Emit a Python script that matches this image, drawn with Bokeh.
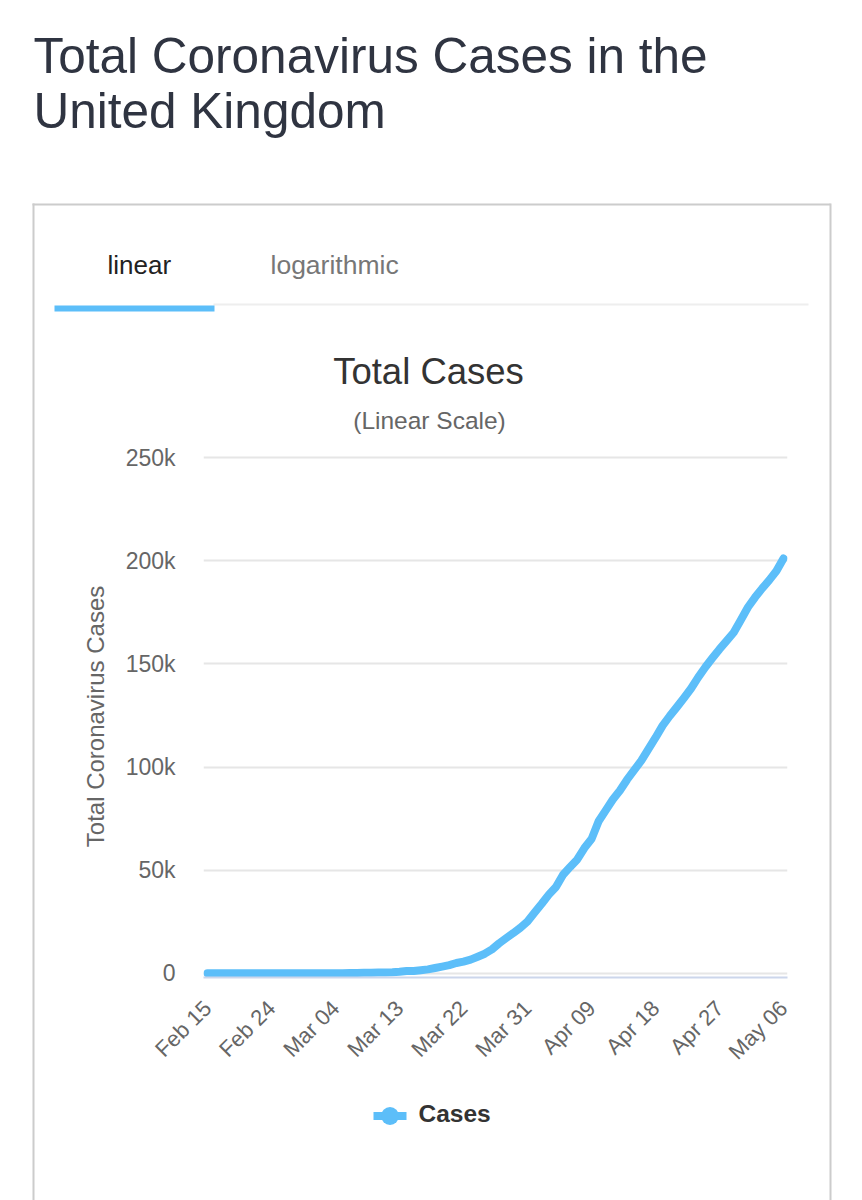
import math
from bokeh.plotting import figure
from bokeh.models import ColumnDataSource, Range1d, FixedTicker
from bokeh.core.properties import value
from bokeh.embed import file_html
from bokeh.resources import INLINE

# ---------------- data ----------------
dates = (["Feb %02d" % d for d in range(15, 30)] +
         ["Mar %02d" % d for d in range(1, 32)] +
         ["Apr %02d" % d for d in range(1, 31)] +
         ["May %02d" % d for d in range(1, 7)])

cases = [9, 9, 9, 9, 9, 9, 9, 9, 9, 13, 13, 13, 15, 20, 23,
         36, 40, 51, 87, 116, 164, 207, 274, 322, 384,
         460, 590, 798, 1140, 1140, 1543, 1950, 2626, 3269, 3983,
         5018, 5683, 6650, 8077, 9529, 11658, 14543, 17089, 19522, 22141, 25150,
         29474, 33718, 38168, 41903, 47806, 51608, 55242, 60733, 65077, 73758,
         78991, 84279, 88621, 93873, 98476, 103093, 108692, 114217, 120067, 124743,
         129044, 133495, 138078, 143464, 148377, 152840, 157149, 161145, 165221, 171253,
         177454, 182260, 186599, 190584, 194990, 201101]

x_tick_labels = ["Feb 15", "Feb 24", "Mar 04", "Mar 13", "Mar 22",
                 "Mar 31", "Apr 09", "Apr 18", "Apr 27", "May 06"]
y_ticks = [0, 50000, 100000, 150000, 200000, 250000]
y_tick_labels = ["0", "50k", "100k", "150k", "200k", "250k"]

page_title = ["Total Coronavirus Cases in the", "United Kingdom"]
tabs = ["linear", "logarithmic"]
chart_title = "Total Cases"
chart_subtitle = "(Linear Scale)"
y_axis_title = "Total Coronavirus Cases"
series_name = "Cases"

# ---------------- layout constants (page pixels) ----------------
W, H = 862, 1200
FL, FR, FT, FB = 203, 787, 455, 977
BLUE = "#5cbef9"
BORDER = "#cccccc"
FONT = "Liberation Sans"
BASE = 0.41   # bokeh places the alphabetic baseline ~0.41em below the anchor

src = ColumnDataSource(dict(x=list(range(len(dates))), y=cases, date=dates))

p = figure(width=W, height=H, output_backend="svg", toolbar_location=None,
           x_range=Range1d(-0.5625, len(dates) - 1 + 0.5625),
           y_range=Range1d(-2000, 251000),
           min_border_left=FL, min_border_right=W - FR,
           min_border_top=FT, min_border_bottom=H - FB)
# page-pixel coordinate system for the page decorations
p.extra_x_ranges = {"px": Range1d(FL, FR)}
p.extra_y_ranges = {"py": Range1d(FB, FT)}

p.outline_line_color = None
p.background_fill_color = "white"
p.border_fill_color = "white"

p.xgrid.grid_line_color = None
p.ygrid.grid_line_color = "#e6e6e6"
p.ygrid.grid_line_width = 2

yax = p.yaxis[0]
yax.ticker = FixedTicker(ticks=y_ticks)
yax.major_label_overrides = {t: l for t, l in zip(y_ticks, y_tick_labels)}
yax.axis_line_color = None
yax.major_tick_line_color = None
yax.major_tick_out = 0
yax.major_tick_in = 0
yax.minor_tick_line_color = None
yax.major_label_text_font = FONT
yax.major_label_text_font_size = "23px"
yax.major_label_text_color = "#666666"
yax.major_label_standoff = 28
yax.axis_label = y_axis_title
yax.axis_label_text_font = FONT
yax.axis_label_text_font_size = "24px"
yax.axis_label_text_font_style = "normal"
yax.axis_label_text_color = "#666666"
yax.axis_label_standoff = 14

xax = p.xaxis[0]
x_ticks = [dates.index(l) for l in x_tick_labels]
xax.ticker = FixedTicker(ticks=x_ticks)
xax.major_label_overrides = {t: l for t, l in zip(x_ticks, x_tick_labels)}
xax.major_label_orientation = math.pi / 4
xax.axis_line_color = "#ccd6eb"
xax.axis_line_width = 2
xax.major_tick_line_color = None
xax.major_tick_out = 0
xax.major_tick_in = 0
xax.minor_tick_line_color = None
xax.major_label_text_font = FONT
xax.major_label_text_font_size = "22px"
xax.major_label_text_color = "#666666"
xax.major_label_standoff = 27

line_r = p.line(x="x", y="y", source=src, line_width=8, line_color=BLUE,
                line_cap="round", line_join="round", name=series_name)


# ---------------- page decorations (page pixel coordinates) ----------------
def deco_text(text, x, baseline, size, color, align="left", style="normal"):
    p.text(x=[x], y=[baseline - BASE * size], text=[text], x_range_name="px", y_range_name="py",
           level="overlay", text_align=align, text_baseline="alphabetic",
           text_font=value(FONT), text_font_size=value("%gpx" % size), text_color=color,
           text_font_style=style)


def deco_bar(left, right, top, bottom, color=BORDER, radius=0):
    p.quad(left=[left], right=[right], top=[top], bottom=[bottom],
           x_range_name="px", y_range_name="py", level="overlay",
           fill_color=color, line_color=None, border_radius=radius)


deco_text(page_title[0], 33, 75, 49.5, "#2f3441")
deco_text(page_title[1], 33, 130, 49.5, "#2f3441")

deco_bar(32, 830, 203, 205)          # box top
deco_bar(32, 34, 203, 1210)          # box left
deco_bar(829, 831, 203, 1210)        # box right

deco_text(tabs[0], 107, 275, 26, "#222222")
deco_text(tabs[1], 270, 275, 26.5, "#777777")
deco_bar(213, 808, 303, 305, "#eeeeee")
deco_bar(54, 214, 305, 311, BLUE)

deco_text(chart_title, 428, 386, 36.5, "#333333", align="center")
deco_text(chart_subtitle, 429, 430, 24.5, "#666666", align="center")

# legend (symbol: thick line with a circle marker, then the series name)
deco_bar(373, 406, 1111.5, 1119.5, BLUE)
deco_bar(380.5, 398.5, 1106.5, 1124.5, BLUE, radius=9)
deco_text(series_name, 418, 1123, 24.5, "#333333", style="bold")

open("out.html", "w").write(file_html(p, INLINE))
